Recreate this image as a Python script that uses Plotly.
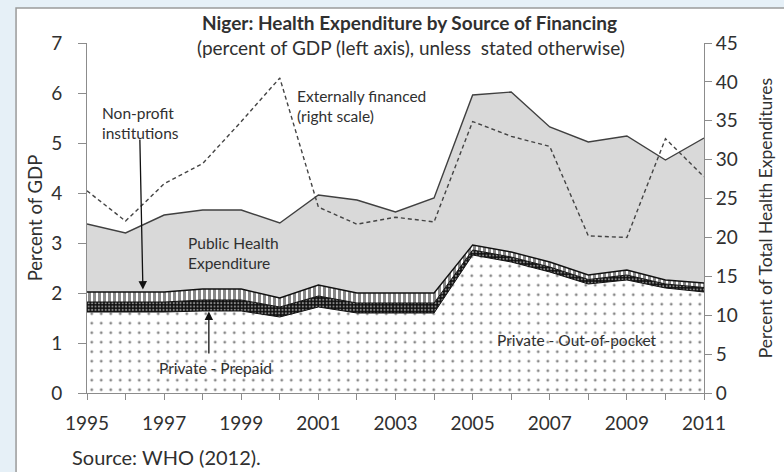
import plotly.graph_objects as go

years = list(range(1995, 2012))

# percent of GDP (left axis), stacked from the bottom
out_of_pocket = [1.62, 1.62, 1.62, 1.64, 1.64, 1.52, 1.72, 1.60, 1.60, 1.60,
                 2.76, 2.62, 2.42, 2.18, 2.26, 2.10, 2.02]
prepaid = [0.20, 0.20, 0.20, 0.22, 0.22, 0.20, 0.22, 0.20, 0.20, 0.20,
           0.10, 0.10, 0.10, 0.09, 0.10, 0.08, 0.09]
non_profit = [0.20, 0.20, 0.20, 0.22, 0.22, 0.18, 0.22, 0.20, 0.20, 0.20,
              0.10, 0.10, 0.10, 0.09, 0.10, 0.08, 0.09]
public = [1.36, 1.18, 1.54, 1.58, 1.58, 1.50, 1.80, 1.86, 1.62, 1.90,
          3.00, 3.20, 2.70, 2.66, 2.68, 2.40, 2.90]

# percent of total health expenditures (right axis)
external = [26.0, 22.1, 26.9, 29.5, 34.9, 40.5, 23.9, 21.7, 22.6, 22.0,
            34.9, 33.0, 31.7, 20.2, 20.0, 32.7, 27.8]

left_ticks = list(range(0, 8))
right_ticks = list(range(0, 50, 5))
year_labels = list(range(1995, 2012, 2))

FONT = 'Lato'
TXT = '#303030'
AXIS = '#8c8c8c'

fig = go.Figure()

fig.add_trace(go.Scatter(
    x=years, y=out_of_pocket, stackgroup='gdp', mode='lines',
    line=dict(color='#111111', width=1),
    fillcolor='white',
    fillpattern=dict(shape='.', size=9.5, solidity=0.07,
                     fgcolor='#111111', bgcolor='white'),
    name='Private - Out-of-pocket',
))
fig.add_trace(go.Scatter(
    x=years, y=prepaid, stackgroup='gdp', mode='lines',
    line=dict(color='#111111', width=1),
    fillcolor='#111111',
    fillpattern=dict(shape='.', size=3.4, solidity=0.3,
                     fgcolor='white', bgcolor='#111111'),
    name='Private - Prepaid',
))
fig.add_trace(go.Scatter(
    x=years, y=non_profit, stackgroup='gdp', mode='lines',
    line=dict(color='#111111', width=1.4),
    fillcolor='white',
    fillpattern=dict(shape='|', size=5, solidity=0.6,
                     fgcolor='#111111', bgcolor='white'),
    name='Non-profit institutions',
))
fig.add_trace(go.Scatter(
    x=years, y=public, stackgroup='gdp', mode='lines',
    line=dict(color='#404040', width=1.4),
    fillcolor='#d9d9d9',
    name='Public Health Expenditure',
))
fig.add_trace(go.Scatter(
    x=years, y=external, yaxis='y2', mode='lines',
    line=dict(color='#444444', width=1.4, dash='4px,3px'),
    name='Externally financed',
))

tickfont = dict(family=FONT, size=19, color=TXT)

fig.update_layout(
    width=784, height=472,
    margin=dict(l=87, r=80, t=43, b=79),
    paper_bgcolor='#e6f0f7',
    plot_bgcolor='white',
    showlegend=False,
    font=dict(family=FONT, color=TXT),
    xaxis=dict(
        range=[1995, 2011], tickvals=year_labels,
        showline=True, linecolor=AXIS, linewidth=1,
        ticks='outside', ticklen=6, tickcolor=AXIS,
        minor=dict(dtick=1, tick0=1995, ticks='outside', ticklen=6, tickcolor=AXIS),
        ticklabelstandoff=7,
        showgrid=False, zeroline=False, tickfont=tickfont,
    ),
    yaxis=dict(
        range=[0, 7], tickvals=left_ticks,
        showline=True, linecolor=AXIS, linewidth=1,
        ticks='outside', ticklen=8, tickcolor=AXIS,
        ticklabelstandoff=12,
        showgrid=False, zeroline=False, tickfont=tickfont,
        title=dict(text='Percent of GDP', font=dict(family=FONT, size=18.5, color=TXT),
                   standoff=3),
    ),
    yaxis2=dict(
        range=[0, 45], tickvals=right_ticks, overlaying='y', side='right',
        showline=True, linecolor=AXIS, linewidth=1,
        ticks='outside', ticklen=7, tickcolor=AXIS,
        showgrid=False, zeroline=False, tickfont=tickfont,
        title=dict(text='Percent of Total Health Expenditures',
                   font=dict(family=FONT, size=17.5, color=TXT), standoff=22),
    ),
)

# white card with grey border behind the chart
fig.add_shape(type='rect', xref='paper', yref='paper', layer='below',
              x0=-0.115, x1=1.15, y0=-0.3, y1=1.1,
              line=dict(color='#9a9a9a', width=1.5), fillcolor='white')

ann = dict(font=dict(family=FONT, size=15.5, color=TXT), showarrow=False,
           yanchor='middle')

fig.add_annotation(xref='paper', yref='paper', x=0.523, y=1.058, yanchor='middle',
                   text='<b>Niger: Health Expenditure by Source of Financing</b>',
                   font=dict(family=FONT, size=19, color=TXT), showarrow=False)
fig.add_annotation(xref='paper', yref='paper', x=0.525, y=0.987, yanchor='middle',
                   text='(percent of GDP (left axis), unless  stated otherwise)',
                   font=dict(family=FONT, size=19, color=TXT), showarrow=False)
fig.add_annotation(xref='paper', yref='paper', x=-0.028, y=-0.183,
                   xanchor='left', yanchor='middle',
                   text='Source: WHO (2012).',
                   font=dict(family=FONT, size=20, color=TXT), showarrow=False)

fig.add_annotation(x=1995.34, y=5.4, xanchor='left', align='left',
                   text='Non-profit<br>institutions', **ann)
fig.add_annotation(x=2000.39, y=5.74, xanchor='left', align='left',
                   text='Externally financed<br>(right scale)', **ann)
fig.add_annotation(x=1997.57, y=2.8, xanchor='left', align='left',
                   text='Public Health<br>Expenditure', **ann)
fig.add_annotation(x=1996.82, y=0.5, xanchor='left',
                   text='Private - Prepaid', **ann)
fig.add_annotation(x=2005.58, y=1.06, xanchor='left',
                   text='Private - Out-of-pocket', **ann)

arrow = dict(text='', showarrow=True, arrowhead=2, arrowsize=1.3, arrowwidth=1.3,
             arrowcolor='#111111', axref='x', ayref='y')
fig.add_annotation(x=1996.45, y=2.07, ax=1996.37, ay=5.1, **arrow)
fig.add_annotation(x=1998.16, y=1.63, ax=1998.16, ay=0.76, **arrow)

# page body has a default margin; drop it so the figure fills the window
fig.write_html('out.html', config={'displayModeBar': False},
               post_script="document.body.style.margin = '0px';")
